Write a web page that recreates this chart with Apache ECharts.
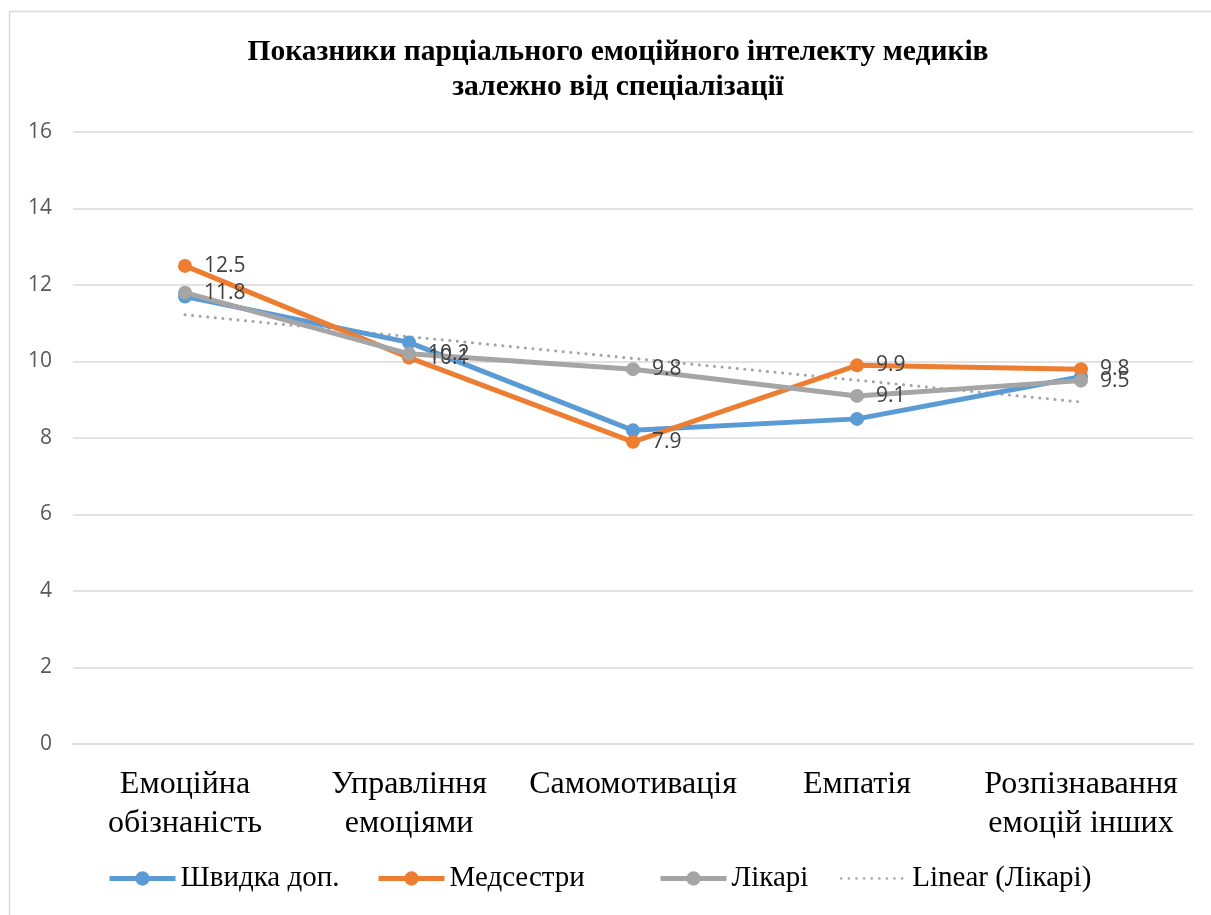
<!DOCTYPE html>
<html><head><meta charset="utf-8">
<script src="https://cdn.jsdelivr.net/npm/echarts@6/dist/echarts.min.js"></script>
<style>html,body{margin:0;padding:0;background:#fff}#c{width:1211px;height:915px}</style>
</head><body><div id="c"></div>
<script>
const categories = ['Емоційна\nобізнаність','Управління\nемоціями','Самомотивація','Емпатія','Розпізнавання\nемоцій інших'];
const ambulance = [11.7, 10.5, 8.2, 8.5, 9.6];
const nurses = [12.5, 10.1, 7.9, 9.9, 9.8];
const doctors = [11.8, 10.2, 9.8, 9.1, 9.5];
const yTicks = {min:0, max:16, interval:2};
const seriesNames = ['Швидка доп.','Медсестри','Лікарі','Linear (Лікарі)'];

// Linear trendline (least squares) of doctors
const n = doctors.length;
const xs = doctors.map((_, i) => i + 1);
const mx = xs.reduce((a,b)=>a+b,0)/n, my = doctors.reduce((a,b)=>a+b,0)/n;
let sxy = 0, sxx = 0;
xs.forEach((x,i)=>{ sxy += (x-mx)*(doctors[i]-my); sxx += (x-mx)*(x-mx); });
const slope = sxy/sxx, icpt = my - slope*mx;
const trend = xs.map(x => +(icpt + slope*x).toFixed(4));

const legendLefts = [107, 376, 658, 840];
const legends = seriesNames.map((name, i) => ({
  top: 864, left: legendLefts[i], padding: 0, itemWidth: 66, itemHeight: 18,
  textStyle:{fontFamily:'Liberation Serif, serif', fontSize:29, color:'#000'},
  data:[ i < 3 ? {name, lineStyle:{width:5}} :
    {name, lineStyle:{width:2.5}, itemStyle:{color:'rgba(0,0,0,0)', borderWidth:0}} ]
}));

const chart = echarts.init(document.getElementById('c'));
const lbl = {show:true, position:'right', distance:12, fontFamily:'Open Sans, Liberation Sans, sans-serif', fontSize:21, color:'#404040', formatter: p => p.value.toFixed(1)};
chart.setOption({
  animation:false,
  graphic:[{type:'rect', shape:{x:9.5,y:11.5,width:1230,height:930}, style:{fill:'none', stroke:'#d9d9d9', lineWidth:1.5}, z:-1}],
  title:{text:'Показники парціального емоційного інтелекту медиків\nзалежно від спеціалізації', left:613, textAlign:'center', top:30,
    textStyle:{fontFamily:'Liberation Serif, serif', fontWeight:'bold', fontSize:29.5, lineHeight:35, color:'#000'}},
  grid:{left:73, right:18, top:132, bottom:171, containLabel:false},
  legend: legends,
  xAxis:{type:'category', data:categories, boundaryGap:true,
    axisLine:{lineStyle:{color:'#d9d9d9', width:1.5}}, axisTick:{show:false},
    axisLabel:{interval:0, margin:21, fontFamily:'Liberation Serif, serif', fontSize:32, lineHeight:39, color:'#000'}},
  yAxis:{type:'value', min:yTicks.min, max:yTicks.max, interval:yTicks.interval,
    axisLine:{show:false}, axisTick:{show:false},
    splitLine:{lineStyle:{color:'#d9d9d9', width:1.5}},
    axisLabel:{margin:21, fontFamily:'Open Sans, Liberation Sans, sans-serif', fontSize:21, color:'#595959'}},
  series:[
    {name:seriesNames[0], type:'line', data:ambulance, symbol:'circle', symbolSize:14,
      lineStyle:{width:5, color:'#5b9bd5'}, itemStyle:{color:'#5b9bd5'}, z:3},
    {name:seriesNames[1], type:'line', data:nurses, symbol:'circle', symbolSize:14,
      lineStyle:{width:5, color:'#ed7d31'}, itemStyle:{color:'#ed7d31'}, label:lbl, z:4},
    {name:seriesNames[2], type:'line', data:doctors, symbol:'circle', symbolSize:14,
      lineStyle:{width:5, color:'#a5a5a5'}, itemStyle:{color:'#a5a5a5'}, label:lbl, z:5},
    {name:seriesNames[3], type:'line', data:trend, symbol:'none', silent:true,
      lineStyle:{width:3, color:'#a5a5a5', type:[0.1,7.5], cap:'round'}, itemStyle:{color:'#a5a5a5'}, z:2}
  ]
});
</script></body></html>
